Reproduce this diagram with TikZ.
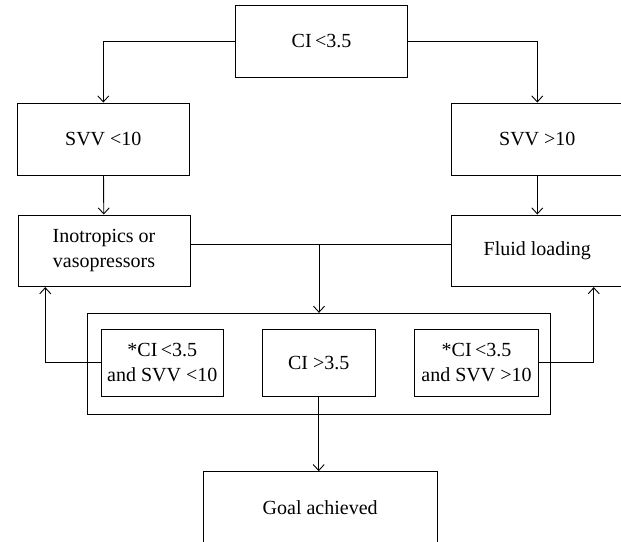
\documentclass[tikz,border=0pt]{standalone}
\usepackage{fontspec}
\setmainfont{Liberation Serif}
\usetikzlibrary{arrows.meta}

\begin{document}
\begin{tikzpicture}[x=1pt,y=-1pt,line width=0.9pt,
	box/.style={draw,inner sep=2pt,align=center,font=\fontsize{20}{25}\selectfont},
	flow/.style={-{Straight Barb[length=6pt,width=11pt]}}]
		\useasboundingbox (0,0) rectangle (621,541);
		\clip (0,0) rectangle (621,541);
		
		% first test
		\node[box,minimum width=171.6pt,minimum height=71.3pt] (ci) at (321.5,41.3) {CI\,<3.5};
		
		% SVV branches
		\node[box,minimum width=172pt,minimum height=72pt] (svvlo) at (103.3,139) {SVV <10};
		\node[box,minimum width=172pt,minimum height=72pt] (svvhi) at (537.3,139) {SVV >10};
		
		% treatments
		\node[box,minimum width=172pt,minimum height=71.7pt] (ino) at (104,250.8) {Inotropics or\\vasopressors};
		\node[box,minimum width=172pt,minimum height=71.7pt] (fluid) at (537.3,250.8) {Fluid loading};
		
		% reassessment
		\node[draw,minimum width=462.6pt,minimum height=101pt] (recheck) at (319,363.8) {};
		\node[box,minimum width=122pt,minimum height=67.7pt] (relo) at (162.3,362.8) {*CI\,<3.5\\and SVV <10};
		\node[box,minimum width=113.3pt,minimum height=67.7pt] (remid) at (318.7,362.8) {CI >3.5};
		\node[box,minimum width=124.4pt,minimum height=67.7pt] (rehi) at (476.5,362.8) {*CI\,<3.5\\and SVV >10};
		
		% end
		\node[box,minimum width=233.7pt,minimum height=72.3pt] (goal) at (320.2,507.8) {Goal achieved};
		
		% arrows
		\draw[flow] (ci.west) -| (svvlo.north);
		\draw[flow] (ci.east) -| (svvhi.north);
		\draw[flow] (svvlo) -- (ino);
		\draw[flow] (svvhi) -- (fluid);
		
		\coordinate (join) at ([yshift=6.5pt]ino.east);
		\draw ([yshift=6.5pt]ino.east) -- ([yshift=6.5pt]fluid.west);
		\draw[flow] (recheck.north |- join) -- (recheck.north);
		
		\draw[flow] (relo.west) -| ([xshift=27.7pt]ino.south west);
		\draw[flow] (rehi.east) -| ([xshift=-30pt]fluid.south east);
		\draw[flow] (remid.south) -- (remid.south |- goal.north);
	
	\end{tikzpicture}
\end{document}
